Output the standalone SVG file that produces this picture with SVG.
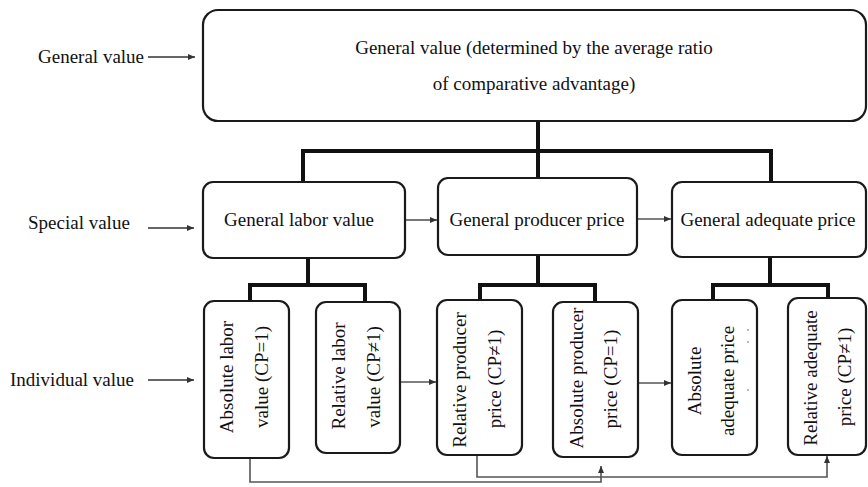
<svg xmlns="http://www.w3.org/2000/svg" width="868" height="487" viewBox="0 0 868 487">
<style>
.t{font-family:"Liberation Serif","Times New Roman",serif;font-size:19px;fill:#111}
.m{text-anchor:middle}
.box{fill:#fff;stroke:#1a1a1a;stroke-width:2.2}
.tree{fill:none;stroke:#111;stroke-width:4;stroke-linejoin:miter}
.thin{fill:none;stroke:#555;stroke-width:1.6}
.lab{fill:none;stroke:#666;stroke-width:2}
</style>
<defs>
<marker id="ah" markerUnits="userSpaceOnUse" markerWidth="8" markerHeight="8" refX="7" refY="4" orient="auto">
<path d="M0,1 L7,4 L0,7 Z" fill="#333"/>
</marker>
</defs>
<rect width="868" height="487" fill="#fff"/>

<g id="labels">
<text class="t" x="38" y="63">General value</text>
<text class="t" x="28" y="229">Special value</text>
<text class="t" x="10" y="386">Individual value</text>
</g>

<g id="connectors">
<line class="lab" x1="148" y1="57" x2="195" y2="57" marker-end="url(#ah)"/>
<line class="lab" x1="148" y1="228" x2="194" y2="228" marker-end="url(#ah)"/>
<line class="lab" x1="148" y1="380" x2="194" y2="380" marker-end="url(#ah)"/>

<path class="tree" d="M538,121 V178"/>
<path class="tree" d="M303,182 V151 H771 V182"/>
<path class="tree" d="M308,258 V285"/>
<path class="tree" d="M250,301 V285 H365 V302"/>
<path class="tree" d="M538,255 V285"/>
<path class="tree" d="M480,300 V285 H595 V302"/>
<path class="tree" d="M770,257 V285"/>
<path class="tree" d="M713,300 V285 H828 V298"/>

<line class="thin" x1="405" y1="220" x2="437" y2="220" marker-end="url(#ah)"/>
<line class="thin" x1="637" y1="219" x2="671" y2="219" marker-end="url(#ah)"/>
<line class="thin" x1="400" y1="382" x2="436" y2="382" marker-end="url(#ah)"/>
<line class="thin" x1="638" y1="383" x2="671" y2="383" marker-end="url(#ah)"/>

<path class="thin" d="M250,458 V482 H601 V466" marker-end="url(#ah)"/>
<path class="thin" d="M477,455 V477 H827 V456" marker-end="url(#ah)"/>
</g>

<g id="general">
<rect class="box" x="203" y="10" width="663" height="111" rx="15"/>
<text class="t m" x="534" y="54">General value (determined by the average ratio</text>
<text class="t m" x="534" y="90">of comparative advantage)</text>
</g>

<g id="labor">
<rect class="box" x="203" y="182" width="202" height="76" rx="10"/>
<text class="t m" x="299" y="226">General labor value</text>
</g>
<g id="producer">
<rect class="box" x="438" y="178" width="199" height="77" rx="10"/>
<text class="t m" x="537" y="226">General producer price</text>
</g>
<g id="adequate">
<rect class="box" x="672" y="182" width="194" height="75" rx="10"/>
<text class="t m" x="768" y="226">General adequate price</text>
</g>

<g id="abs-labor">
<rect class="box" x="204" y="301" width="85" height="157" rx="10"/>
<text class="t m" transform="translate(233,377) rotate(-90)">Absolute labor</text>
<text class="t m" transform="translate(268,377) rotate(-90)">value (CP=1)</text>
</g>
<g id="rel-labor">
<rect class="box" x="316" y="302" width="84" height="151" rx="10"/>
<text class="t m" transform="translate(345,376) rotate(-90)">Relative labor</text>
<text class="t m" transform="translate(380,377) rotate(-90)">value (CP≠1)</text>
</g>
<g id="rel-producer">
<rect class="box" x="437" y="300" width="85" height="155" rx="10"/>
<text class="t m" transform="translate(466,380) rotate(-90)">Relative producer</text>
<text class="t m" transform="translate(501,379) rotate(-90)">price (CP≠1)</text>
</g>
<g id="abs-producer">
<rect class="box" x="553" y="302" width="85" height="155" rx="10"/>
<text class="t m" transform="translate(583,378) rotate(-90)">Absolute producer</text>
<text class="t m" transform="translate(617,379) rotate(-90)">price (CP=1)</text>
</g>
<g id="abs-adequate">
<rect class="box" x="672" y="300" width="85" height="155" rx="10"/>
<text class="t m" transform="translate(701,381) rotate(-90)">Absolute</text>
<text class="t m" transform="translate(734,381) rotate(-90)">adequate price</text>
<circle cx="748" cy="330" r="0.9" fill="#999"/>
<circle cx="748" cy="342" r="0.9" fill="#999"/>
<circle cx="748" cy="390" r="0.9" fill="#999"/>
</g>
<g id="rel-adequate">
<rect class="box" x="788" y="298" width="78" height="157" rx="10"/>
<text class="t m" transform="translate(817,378) rotate(-90)">Relative adequate</text>
<text class="t m" transform="translate(851,377) rotate(-90)">price (CP≠1)</text>
</g>
</svg>
